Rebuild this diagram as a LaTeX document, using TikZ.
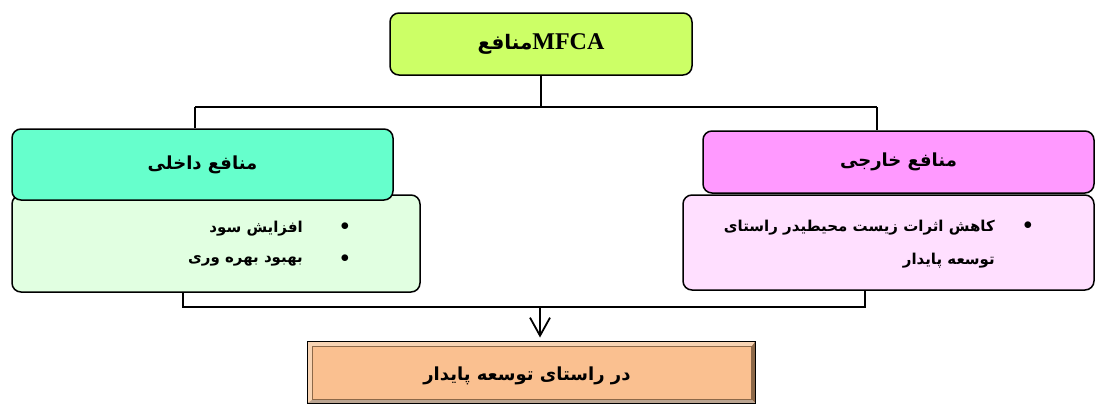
\documentclass[tikz,border=0pt]{standalone}
\usepackage{fontspec}
\setmainfont{Liberation Serif}
\newfontfamily\arabicfont[Script=Arabic]{DejaVu Sans}
\TeXXeTstate=1
\usetikzlibrary{arrows.meta,calc}
\definecolor{mfcafill}{HTML}{CCFF66}
\definecolor{inheadfill}{HTML}{66FFCC}
\definecolor{inbodyfill}{HTML}{E1FFE1}
\definecolor{exheadfill}{HTML}{FF99FF}
\definecolor{exbodyfill}{HTML}{FFDFFF}
\definecolor{goalfill}{HTML}{FAC090}
\definecolor{goallight}{HTML}{F8D4B4}
\definecolor{goaldark}{HTML}{8C6848}
\newcommand{\fa}[1]{{\arabicfont\bfseries\beginR #1\endR}}

\begin{document}
\begin{tikzpicture}[x=1pt,y=-1pt,
  box/.style={draw, line width=1.5pt, rounded corners=9pt, inner sep=0pt},
  link/.style={line width=1.8pt},
  item/.style={inner sep=0pt, font=\fontsize{15}{33}\selectfont},
  dot/.style={inner sep=0pt, font=\fontsize{19}{20}\selectfont}]
\useasboundingbox (0,0) rectangle (1096,405);

\node[box, fill=mfcafill, minimum width=302, minimum height=62,
  font=\fontsize{20}{24}\selectfont] (mfca) at (541,44)
  {\fa{منافع}{\fontsize{24}{24}\selectfont\textbf{MFCA}}};

\node[box, fill=inbodyfill, minimum width=408, minimum height=97] (inbody) at (216,243.5) {};
\node[box, fill=inheadfill, minimum width=381, minimum height=71,
  font=\fontsize{18}{20}\selectfont] (inhead) at (202.5,164.5) {\fa{منافع داخلی}};
\node[box, fill=exbodyfill, minimum width=411, minimum height=95] (exbody) at (888.5,242.5) {};
\node[box, fill=exheadfill, minimum width=391, minimum height=62,
  font=\fontsize{18}{20}\selectfont] (exhead) at (898.5,162) {\fa{منافع خارجی}};

% internal benefits
\node[item, anchor=east] (in1) at (303,229) {\fa{افزایش سود}};
\node[item, anchor=east] (in2) at (303,261) {\fa{بهبود بهره وری}};
\node[dot] (dot1) at (345,227) {$\bullet$};
\node[dot] (dot2) at (345,259) {$\bullet$};
% external benefits
\node[item, anchor=north east, align=right] (ex1) at (995,220)
  {\fa{کاهش اثرات زیست محیطیدر راستای}\\ \fa{توسعه پایدار}};
\node[dot] (dot3) at (1028,226) {$\bullet$};

\node[draw, line width=1pt, fill=goalfill, minimum width=447, minimum height=61,
  inner sep=0pt] (goal) at (531.5,372.5) {};
\fill[goallight] (goal.north west) -- (goal.north east) -- ($(goal.north east)+(-4,5)$)
  -- ($(goal.north west)+(5,5)$) -- ($(goal.south west)+(5,-4)$) -- (goal.south west) -- cycle;
\fill[goaldark] (goal.north east) -- (goal.south east) -- ($(goal.south east)+(-4,-4)$)
  -- ($(goal.north east)+(-4,5)$) -- cycle;
\fill[goaldark!60] (goal.south west) -- (goal.south east) -- ($(goal.south east)+(-4,-4)$)
  -- ($(goal.south west)+(5,-4)$) -- cycle;
\draw[line width=0.5pt, goaldark] ($(goal.north west)+(5,5)$) rectangle ($(goal.south east)+(-4,-4)$);
\draw[line width=1.2pt] (goal.north west) rectangle (goal.south east);
\node[font=\fontsize{18}{20}\selectfont] (goaltext) at (527,376) {\fa{در راستای توسعه پایدار}};

% tree lines
\coordinate (jt) at (541,107);
\coordinate (jl) at (195,107);
\coordinate (jr) at (877,107);
\draw[link] (mfca) -- (jt);
\draw[link] (jl) -- (jr);
\draw[link] (jl) -- (jl |- inhead.north);
\draw[link] (jr) -- (jr |- exhead.north);

\coordinate (kl) at (183,307);
\coordinate (kr) at (865,307);
\coordinate (km) at (540,307);
\draw[link] (kl |- inbody.south) -- (kl) -- (kr) -- (kr |- exbody.south);
\draw[link, shorten >=4pt, -{Straight Barb[length=18pt,width=20pt,line width=1.8pt]}] (km) -- (km |- goal.north);
\end{tikzpicture}
\end{document}
